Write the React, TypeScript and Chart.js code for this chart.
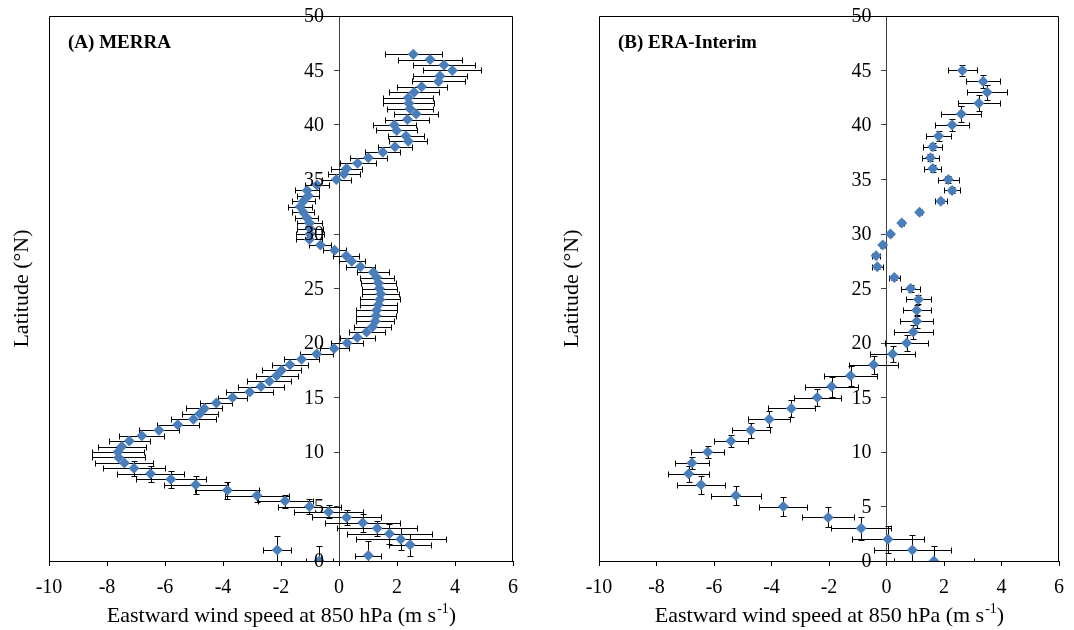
import React, { useEffect, useRef } from "react";
import { Chart, registerables } from "chart.js";

Chart.register(...registerables);

// ---------- Panel A: MERRA ----------
const latA = [
  0, 0.5, 1, 1.5, 2, 2.5, 3, 3.5, 4, 4.5, 5, 5.5, 6, 6.5, 7, 7.5, 8, 8.5, 9, 9.5,
  10, 10.5, 11, 11.5, 12, 12.5, 13, 13.5, 14, 14.5, 15, 15.5, 16, 16.5, 17, 17.5, 18, 18.5, 19, 19.5,
  20, 20.5, 21, 21.5, 22, 22.5, 23, 23.5, 24, 24.5, 25, 25.5, 26, 26.5, 27, 27.5, 28, 28.5, 29, 29.5,
  30, 30.5, 31, 31.5, 32, 32.5, 33, 33.5, 34, 34.5, 35, 35.5, 36, 36.5, 37, 37.5, 38, 38.5, 39, 39.5,
  40, 40.5, 41, 41.5, 42, 42.5, 43, 43.5, 44, 44.5, 45, 45.5, 46, 46.5,
];
const windA = [
  -0.68, 1.01, -2.13, 2.45, 2.13, 1.74, 1.32, 0.82, 0.26, -0.36, -1.02, -1.86, -2.83, -3.85, -4.94, -5.8, -6.5, -7.07, -7.4, -7.6,
  -7.62, -7.49, -7.23, -6.8, -6.21, -5.56, -5.02, -4.8, -4.64, -4.23, -3.67, -3.08, -2.69, -2.4, -2.15, -1.98, -1.69, -1.29, -0.77, -0.17,
  0.28, 0.63, 0.95, 1.16, 1.25, 1.28, 1.3, 1.36, 1.41, 1.44, 1.39, 1.36, 1.3, 1.18, 0.74, 0.44, 0.25, -0.15, -0.64, -1.02,
  -1.0, -1.0, -1.02, -1.11, -1.23, -1.34, -1.23, -1.06, -1.1, -0.76, -0.09, 0.17, 0.26, 0.64, 1.01, 1.51, 1.93, 2.39, 2.31, 1.99,
  1.91, 2.36, 2.66, 2.45, 2.41, 2.39, 2.59, 2.85, 3.43, 3.48, 3.91, 3.62, 3.14, 2.56,
];
const windErrA = [
  0.46, 0.45, 0.48, 0.72, 1.56, 1.46, 1.38, 1.3, 1.2, 1.2, 1.1, 0.95, 1.1, 1.1, 1.1, 1.2, 1.15, 1.07, 1.0, 0.92,
  0.9, 0.82, 0.7, 0.78, 0.7, 0.72, 0.78, 0.62, 0.62, 0.55, 0.5, 0.8, 0.8, 0.76, 0.72, 0.68, 0.63, 0.6, 0.57, 0.5,
  0.55, 0.6, 0.62, 0.65, 0.65, 0.68, 0.7, 0.65, 0.68, 0.63, 0.6, 0.6, 0.58, 0.55, 0.5, 0.45, 0.45, 0.4, 0.38, 0.45,
  0.48, 0.45, 0.42, 0.4, 0.38, 0.42, 0.4, 0.38, 0.42, 0.4, 0.5, 0.55, 0.53, 0.62, 0.63, 0.6, 0.57, 0.65, 0.63, 0.7,
  0.73, 0.76, 0.76, 0.78, 0.88, 0.86, 0.86, 0.86, 0.91, 0.92, 1.0, 1.08, 1.09, 0.99,
];
const latErrA = [
  1.4, 1.38, 1.25, 1.0, 1.0, 0.9, 0.67, 0.8, 0.67, 0.6, 0.67, 0.6, 0.55, 0.78, 0.83, 0.8, 0.75, 0.72, 0, 0,
  0, 0, 0, 0, 0, 0, 0, 0, 0, 0, 0, 0, 0, 0, 0, 0, 0, 0, 0, 0,
  0, 0, 0, 0, 0, 0, 0, 0, 0, 0, 0, 0, 0, 0, 0, 0, 0, 0, 0, 0,
  0, 0, 0, 0, 0, 0, 0, 0, 0, 0, 0, 0, 0, 0, 0, 0, 0, 0, 0, 0,
  0, 0, 0, 0, 0, 0, 0, 0, 0, 0, 0, 0, 0, 0,
];

// ---------- Panel B: ERA-Interim ----------
const latB = [
  0, 1, 2, 3, 4, 5, 6, 7, 8, 9, 10, 11, 12, 13, 14, 15, 16, 17, 18, 19, 20, 21, 22,
  23, 24, 25, 26, 27, 28, 29, 30, 31, 32, 33, 34, 35, 36, 37, 38, 39, 40, 41, 42, 43, 44, 45,
];
const windB = [
  1.65, 0.9, 0.05, -0.88, -2.03, -3.59, -5.24, -6.45, -6.88, -6.77, -6.22, -5.41, -4.72, -4.08, -3.31, -2.41, -1.91, -1.25, -0.45, 0.21, 0.7, 0.93, 1.05,
  1.05, 1.11, 0.84, 0.27, -0.32, -0.36, -0.13, 0.14, 0.53, 1.15, 1.89, 2.28, 2.15, 1.61, 1.53, 1.61, 1.81, 2.28, 2.6, 3.21, 3.5, 3.36, 2.64,
];
const windErrB = [
  1.38, 1.35, 1.24, 1.05, 0.91, 0.84, 0.87, 0.83, 0.72, 0.58, 0.58, 0.58, 0.67, 0.73, 0.81, 0.82, 0.91, 0.93, 0.85, 0.77, 0.76, 0.67, 0.58,
  0.49, 0.43, 0.33, 0.2, 0.19, 0.15, 0.08, 0.06, 0.08, 0.1, 0.2, 0.28, 0.36, 0.29, 0.3, 0.33, 0.43, 0.59, 0.7, 0.74, 0.69, 0.59, 0.51,
];
const latErrB = windErrB;

const xTicks = { min: -10, max: 6, step: 2 };
const yTicks = { min: 0, max: 50, step: 5 };

const SERIF = '"Liberation Serif", "Times New Roman", serif';
const MARKER = "#4A7EBB";
const INK = "#000000";

const errorBarPlugin = {
  id: "errorBars",
  beforeDatasetsDraw(chart: any) {
    const { ctx, chartArea } = chart;
    const xs = chart.scales.x;
    const ys = chart.scales.y;
    ctx.save();
    ctx.beginPath();
    ctx.rect(chartArea.left, chartArea.top, chartArea.right - chartArea.left, chartArea.bottom - chartArea.top + 1);
    ctx.clip();
    ctx.strokeStyle = INK;
    ctx.lineWidth = 1;
    chart.data.datasets.forEach((ds: any) => {
      ds.data.forEach((p: any, i: number) => {
        const ex = ds.xErr ? ds.xErr[i] : 0;
        const ey = ds.yErr ? ds.yErr[i] : 0;
        const px = xs.getPixelForValue(p.x);
        const py = Math.round(ys.getPixelForValue(p.y)) + 0.5;
        const cap = 3;
        ctx.beginPath();
        if (ex > 0) {
          const xl = Math.round(xs.getPixelForValue(p.x - ex)) + 0.5;
          const xr = Math.round(xs.getPixelForValue(p.x + ex)) + 0.5;
          ctx.moveTo(xl, py);
          ctx.lineTo(xr, py);
          ctx.moveTo(xl, py - cap);
          ctx.lineTo(xl, py + cap);
          ctx.moveTo(xr, py - cap);
          ctx.lineTo(xr, py + cap);
        }
        if (ey > 0) {
          const cx = Math.round(px) + 0.5;
          const yt = Math.round(ys.getPixelForValue(p.y + ey)) + 0.5;
          const yb = Math.round(ys.getPixelForValue(p.y - ey)) + 0.5;
          ctx.moveTo(cx, yt);
          ctx.lineTo(cx, yb);
          ctx.moveTo(cx - cap, yt);
          ctx.lineTo(cx + cap, yt);
          ctx.moveTo(cx - cap, yb);
          ctx.lineTo(cx + cap, yb);
        }
        ctx.stroke();
      });
    });
    ctx.restore();
  },
};

const framePlugin = {
  id: "frame",
  beforeDatasetsDraw(chart: any) {
    const { ctx, chartArea } = chart;
    ctx.save();
    ctx.strokeStyle = INK;
    ctx.lineWidth = 1;
    const l = Math.round(chartArea.left) + 0.5;
    const r = Math.round(chartArea.right) - 0.5;
    const t = Math.round(chartArea.top) + 0.5;
    const b = Math.round(chartArea.bottom) + 0.5;
    ctx.beginPath();
    ctx.moveTo(l, b);
    ctx.lineTo(l, t);
    ctx.lineTo(r, t);
    ctx.lineTo(r, b);
    ctx.stroke();
    ctx.restore();
  },
};

// y tick labels drawn beside the crossing axis (at x = 0), from the y scale's own ticks
const yLabelPlugin = {
  id: "yLabels",
  afterDraw(chart: any) {
    const { ctx } = chart;
    const xs = chart.scales.x;
    const ys = chart.scales.y;
    const ax = xs.getPixelForValue(0);
    ctx.save();
    ctx.fillStyle = INK;
    ctx.font = `20px ${SERIF}`;
    ctx.textAlign = "right";
    ctx.textBaseline = "middle";
    ys.ticks.forEach((t: any) => {
      ctx.fillText(String(t.value), ax - 15, ys.getPixelForValue(t.value) + 1);
    });
    ctx.restore();
  },
};

const textPlugin = {
  id: "panelText",
  afterDraw(chart: any, _args: any, opts: any) {
    const { ctx, chartArea } = chart;
    ctx.save();
    ctx.fillStyle = INK;
    // panel label
    ctx.font = `bold 19px ${SERIF}`;
    ctx.textAlign = "left";
    ctx.textBaseline = "middle";
    ctx.fillText(opts.label, chartArea.left + 19, chartArea.top + 27);
    // y title
    ctx.save();
    ctx.translate(chartArea.left - 27, (chartArea.top + chartArea.bottom) / 2);
    ctx.rotate(-Math.PI / 2);
    ctx.font = `22px ${SERIF}`;
    ctx.textAlign = "center";
    ctx.textBaseline = "middle";
    ctx.fillText("Latitude (°N)", 0, 0);
    ctx.restore();
    // x title with superscript
    const main = "Eastward wind speed at 850 hPa (m s";
    const sup = "-1";
    const end = ")";
    ctx.textAlign = "left";
    ctx.textBaseline = "alphabetic";
    ctx.font = `22px ${SERIF}`;
    const w1 = ctx.measureText(main).width;
    const w3 = ctx.measureText(end).width;
    ctx.font = `14px ${SERIF}`;
    const w2 = ctx.measureText(sup).width;
    const total = w1 + w2 + w3;
    const cx = (chartArea.left + chartArea.right) / 2;
    const x0 = cx - total / 2;
    const base = 622;
    ctx.font = `22px ${SERIF}`;
    ctx.fillText(main, x0, base);
    ctx.font = `14px ${SERIF}`;
    ctx.fillText(sup, x0 + w1 + 1, base - 9);
    ctx.font = `22px ${SERIF}`;
    ctx.fillText(end, x0 + w1 + w2 + 1, base);
    ctx.restore();
  },
};

function makeConfig(lat: number[], wind: number[], xErr: number[], yErr: number[], label: string, padLeft: number, padRight: number): any {
  return {
    type: "scatter",
    data: {
      datasets: [
        {
          data: lat.map((l, i) => ({ x: wind[i], y: l })),
          xErr,
          yErr,
          pointStyle: "rectRot",
          pointRadius: 5.5,
          pointHoverRadius: 5.5,
          backgroundColor: MARKER,
          borderColor: MARKER,
          borderWidth: 0,
        },
      ],
    },
    options: {
      responsive: false,
      animation: false,
      layout: { padding: { left: padLeft, right: padRight, top: 16, bottom: 0 } },
      plugins: {
        legend: { display: false },
        tooltip: { enabled: false },
        panelText: { label },
      },
      scales: {
        x: {
          type: "linear",
          min: xTicks.min,
          max: xTicks.max,
          ticks: { stepSize: xTicks.step, color: INK, font: { family: SERIF, size: 20 }, padding: 10 },
          grid: { drawOnChartArea: false, drawTicks: true, tickLength: 5, color: INK },
          border: { display: true, color: INK, width: 1 },
          afterFit: (s: any) => {
            s.height = 69;
          },
        },
        y: {
          type: "linear",
          position: { x: 0 },
          min: yTicks.min,
          max: yTicks.max,
          ticks: { stepSize: yTicks.step, display: false },
          grid: { drawOnChartArea: false, drawTicks: true, tickLength: 5, color: "#404040" },
          border: { display: true, color: "#404040", width: 1 },
        },
      },
    },
    plugins: [framePlugin, errorBarPlugin, yLabelPlugin, textPlugin],
  };
}

function Panel(props: { cfg: () => any; left: number }) {
  const ref = useRef<HTMLCanvasElement | null>(null);
  useEffect(() => {
    if (!ref.current) return;
    const chart = new Chart(ref.current, props.cfg());
    return () => chart.destroy();
  }, []);
  return (
    <canvas
      ref={ref}
      width={537}
      height={630}
      style={{ position: "absolute", left: props.left, top: 0, width: 537, height: 630 }}
    />
  );
}

export default function App() {
  return (
    <div style={{ position: "absolute", left: 0, top: 0, width: 1074, height: 630, background: "#fff", overflow: "hidden" }}>
      <Panel left={0} cfg={() => makeConfig(latA, windA, windErrA, latErrA, "(A) MERRA", 49, 24)} />
      <Panel left={537} cfg={() => makeConfig(latB, windB, windErrB, latErrB, "(B) ERA-Interim", 62, 12)} />
    </div>
  );
}
